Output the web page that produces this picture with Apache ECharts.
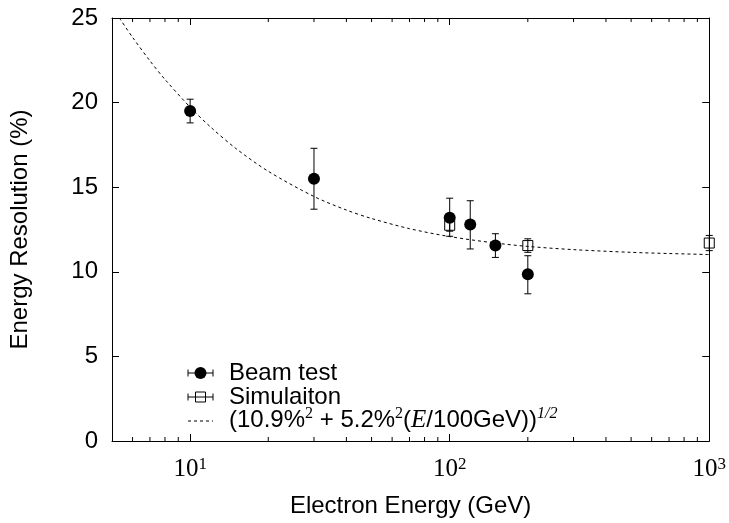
<!DOCTYPE html>
<html><head><meta charset="utf-8">
<script src="https://cdn.jsdelivr.net/npm/echarts@6/dist/echarts.min.js"></script>
<style>html,body{margin:0;padding:0;background:#fff}#c{width:729px;height:523px}</style>
</head><body><div id="c"></div>
<script>
// ---- data ----
const beamEnergy = [10, 30, 100, 120, 150, 200];
const beamRes    = [19.5, 15.5, 13.2, 12.8, 11.55, 9.85];
const beamLow    = [18.8, 13.7, 12.1, 11.35, 10.85, 8.7];
const beamHigh   = [20.2, 17.3, 14.35, 14.2, 12.25, 10.95];

const simEnergy = [100, 200, 1000];
const simRes    = [12.75, 11.55, 11.7];
const simLow    = [12.4, 11.15, 11.25];
const simHigh   = [13.1, 11.95, 12.15];

const fitEnergy = [5.34, 6, 7, 8, 10, 12, 15, 20, 30, 40, 50, 70, 100, 150, 200, 300, 500, 700, 1000];
const fitRes    = [25.0, 23.86, 22.47, 21.37, 19.73, 18.55, 17.29, 15.94, 14.45, 13.65, 13.15, 12.55, 12.08, 11.70, 11.50, 11.31, 11.15, 11.08, 11.02];

const xMinorTicks = [6, 7, 8, 9, 20, 30, 40, 50, 60, 70, 80, 90, 200, 300, 400, 500, 600, 700, 800, 900];
const yMin = 0, yMax = 25, yStep = 5;
const xMin = 5, xMax = 1000;

const SANS = '"Liberation Sans", Arial, sans-serif';
const SERIF = '"Liberation Serif", "Times New Roman", serif';
const FS = 24;

function errRender(params, api) {
  const x = api.value(0), lo = api.value(1), hi = api.value(2);
  const pLo = api.coord([x, lo]), pHi = api.coord([x, hi]);
  const w = 3.5;
  const st = { stroke: '#000', lineWidth: 1 };
  return { type: 'group', children: [
    { type: 'line', shape: { x1: pLo[0], y1: pLo[1], x2: pHi[0], y2: pHi[1] }, style: st },
    { type: 'line', shape: { x1: pLo[0] - w, y1: pLo[1], x2: pLo[0] + w, y2: pLo[1] }, style: st },
    { type: 'line', shape: { x1: pHi[0] - w, y1: pHi[1], x2: pHi[0] + w, y2: pHi[1] }, style: st }
  ]};
}

function minorRender(params, api) {
  const v = api.value(0);
  const pb = api.coord([v, yMin]), pt = api.coord([v, yMax]);
  const st = { stroke: '#000', lineWidth: 1 };
  return { type: 'group', children: [
    { type: 'line', shape: { x1: pb[0], y1: pb[1], x2: pb[0], y2: pb[1] - 4 }, style: st },
    { type: 'line', shape: { x1: pt[0], y1: pt[1], x2: pt[0], y2: pt[1] + 4 }, style: st }
  ]};
}

function xLabel(v) {
  const l = Math.log10(v), e = Math.round(l);
  if (Math.abs(l - e) > 1e-6) return '';
  return '{b|10}{s|' + e + '}';
}

const frameLine = { show: true, onZero: false, lineStyle: { color: '#000', width: 1 } };
const tickStyle = { show: true, inside: true, length: 7, lineStyle: { color: '#000' } };

const chart = echarts.init(document.getElementById('c'));
chart.setOption({
  animation: false,
  backgroundColor: '#fff',
  grid: { left: 112, right: 15, top: 18, bottom: 82, containLabel: false },
  xAxis: [
    { type: 'log', logBase: 10, min: xMin, max: xMax, position: 'bottom',
      axisLine: frameLine, splitLine: { show: false }, axisTick: tickStyle,
      axisLabel: { formatter: xLabel, margin: 15, color: '#000',
        rich: { b: { fontFamily: SERIF, fontSize: 25, color: '#000', lineHeight: 26 },
                s: { fontFamily: SERIF, fontSize: 17, color: '#000', verticalAlign: 'top', lineHeight: 17 } } },
      name: 'Electron Energy (GeV)', nameLocation: 'middle', nameGap: 53,
      nameTextStyle: { fontFamily: SANS, fontSize: FS, color: '#000' } },
    { type: 'log', logBase: 10, min: xMin, max: xMax, position: 'top',
      axisLine: frameLine, splitLine: { show: false }, axisTick: tickStyle,
      axisLabel: { show: false } }
  ],
  yAxis: [
    { type: 'value', min: yMin, max: yMax, interval: yStep, position: 'left',
      axisLine: frameLine, splitLine: { show: false }, axisTick: tickStyle,
      axisLabel: { fontFamily: SANS, fontSize: FS, color: '#000', margin: 14 },
      name: 'Energy Resolution (%)', nameLocation: 'middle', nameGap: 80,
      nameTextStyle: { fontFamily: SANS, fontSize: FS, color: '#000' } },
    { type: 'value', min: yMin, max: yMax, interval: yStep, position: 'right',
      axisLine: frameLine, splitLine: { show: false }, axisTick: tickStyle,
      axisLabel: { show: false } }
  ],
  series: [
    { type: 'custom', name: 'minorTicks', silent: true, renderItem: minorRender,
      data: xMinorTicks.map(v => [v, yMin]), encode: { x: 0, y: 1 }, z: 1 },
    { type: 'line', name: 'fit', data: fitEnergy.map((e, i) => [e, fitRes[i]]),
      showSymbol: false, smooth: 0.3, silent: true,
      lineStyle: { color: '#000', width: 1, type: [3, 3] }, z: 2 },
    { type: 'custom', name: 'beamErr', renderItem: errRender, silent: true,
      data: beamEnergy.map((e, i) => [e, beamLow[i], beamHigh[i]]), encode: { x: 0, y: [1, 2] }, z: 3 },
    { type: 'custom', name: 'simErr', renderItem: errRender, silent: true,
      data: simEnergy.map((e, i) => [e, simLow[i], simHigh[i]]), encode: { x: 0, y: [1, 2] }, z: 3 },
    { type: 'scatter', name: 'Simulaiton', data: simEnergy.map((e, i) => [e, simRes[i]]),
      symbol: 'rect', symbolSize: 10, clip: false, silent: true,
      itemStyle: { color: 'rgba(0,0,0,0)', borderColor: '#000', borderWidth: 1, opacity: 1 }, z: 4 },
    { type: 'scatter', name: 'Beam test', data: beamEnergy.map((e, i) => [e, beamRes[i]]),
      symbol: 'circle', symbolSize: 12, clip: false, silent: true,
      itemStyle: { color: '#000', opacity: 1 }, z: 5 }
  ],
  graphic: [
    // legend: Beam test
    { type: 'line', shape: { x1: 188, y1: 373, x2: 213, y2: 373 }, style: { stroke: '#000', lineWidth: 1 } },
    { type: 'line', shape: { x1: 188, y1: 369.5, x2: 188, y2: 376.5 }, style: { stroke: '#000', lineWidth: 1 } },
    { type: 'line', shape: { x1: 213, y1: 369.5, x2: 213, y2: 376.5 }, style: { stroke: '#000', lineWidth: 1 } },
    { type: 'circle', shape: { cx: 200.5, cy: 373, r: 6 }, style: { fill: '#000' } },
    { type: 'text', left: 229, top: 361, style: { text: 'Beam test', font: FS + 'px ' + SANS, fill: '#000' } },
    // legend: Simulaiton
    { type: 'rect', shape: { x: 195.5, y: 392, width: 10, height: 10 }, style: { fill: 'none', stroke: '#000', lineWidth: 1 } },
    { type: 'line', shape: { x1: 188, y1: 397, x2: 213, y2: 397 }, style: { stroke: '#000', lineWidth: 1 } },
    { type: 'line', shape: { x1: 188, y1: 393.5, x2: 188, y2: 400.5 }, style: { stroke: '#000', lineWidth: 1 } },
    { type: 'line', shape: { x1: 213, y1: 393.5, x2: 213, y2: 400.5 }, style: { stroke: '#000', lineWidth: 1 } },
    { type: 'text', left: 229, top: 385, style: { text: 'Simulaiton', font: FS + 'px ' + SANS, fill: '#000' } },
    // legend: fit
    { type: 'line', shape: { x1: 188, y1: 421, x2: 213, y2: 421 }, style: { stroke: '#000', lineWidth: 1, lineDash: [3, 3] } },
    { type: 'text', left: 229, top: 406, style: {
        text: '{n|(10.9%}{s|2}{n| + 5.2%}{s|2}{n|(}{i|E}{n|/100GeV))}{f|1/2}',
        rich: {
          n: { fontFamily: SANS, fontSize: FS, color: '#000', lineHeight: 28 },
          i: { fontFamily: SERIF, fontStyle: 'italic', fontSize: FS + 1, color: '#000', lineHeight: 28 },
          s: { fontFamily: SERIF, fontSize: 16, color: '#000', verticalAlign: 'top', lineHeight: 16 },
          f: { fontFamily: SERIF, fontStyle: 'italic', fontSize: 16, color: '#000', verticalAlign: 'top', lineHeight: 16 }
        } } }
  ]
});
</script></body></html>
